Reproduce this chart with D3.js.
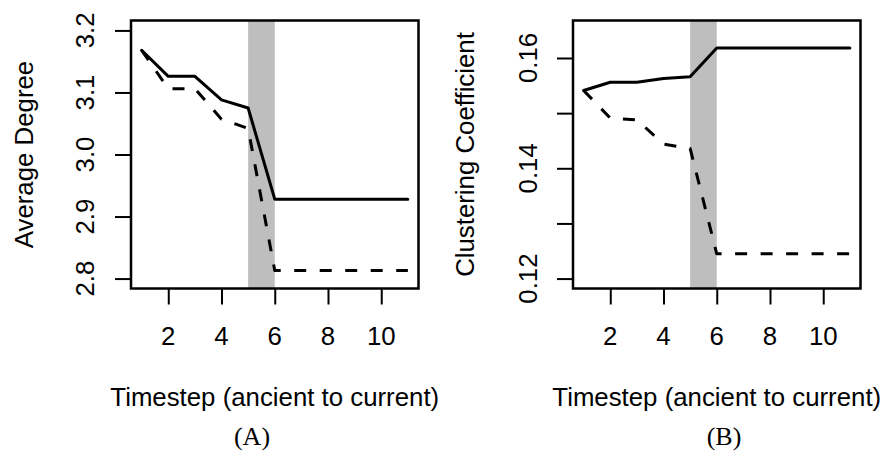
<!DOCTYPE html>
<html><head><meta charset="utf-8">
<script src="https://cdn.jsdelivr.net/npm/d3@7"></script>
<style>body{margin:0;background:#fff}svg{display:block}</style>
</head><body>
<svg id="c" width="880" height="453"></svg>
<script>
const timesteps = [1,2,3,4,5,6,7,8,9,10,11];
const degreeSolid  = [3.168,3.126,3.126,3.088,3.075,2.928,2.928,2.928,2.928,2.928,2.928];
const degreeDashed = [3.168,3.106,3.106,3.057,3.042,2.813,2.813,2.813,2.813,2.813,2.813];
const clusterSolid  = [0.1541,0.1556,0.1556,0.1563,0.1566,0.1618,0.1618,0.1618,0.1618,0.1618,0.1618];
const clusterDashed = [0.1541,0.1491,0.1488,0.1444,0.1436,0.1245,0.1245,0.1245,0.1245,0.1245,0.1245];
const xTicks = [2,4,6,8,10];
const degreeTicks = [2.8,2.9,3.0,3.1,3.2];
const degreeLabels = ["2.8","2.9","3.0","3.1","3.2"];
const clusterTicks = [0.12,0.13,0.14,0.15,0.16];
const clusterLabels = ["0.12","","0.14","","0.16"];
const band = [5,6];
const xTitle = "Timestep (ancient to current)";

const svg = d3.select("#c");
const sans = "'Liberation Sans', Arial, Helvetica, sans-serif";
const fs = 25.8;

function ext(lo, hi){ const r = hi-lo; return [lo-0.04*r, hi+0.04*r]; }

function panel(opt){
  const g = svg.append("g");
  const x = d3.scaleLinear().domain(ext(1,11)).range([opt.left, opt.right]);
  const y = d3.scaleLinear().domain(ext(opt.ylim[0], opt.ylim[1])).range([opt.bottom, opt.top]);
  g.append("rect").attr("x", x(band[0])).attr("width", x(band[1])-x(band[0]))
    .attr("y", opt.top).attr("height", opt.bottom-opt.top).attr("fill", "#bebebe");
  const line = d3.line().x((d,i)=>x(timesteps[i])).y(d=>y(d));
  g.append("path").attr("d", line(opt.solid)).attr("fill","none").attr("stroke","#000")
    .attr("stroke-width",3).attr("stroke-linejoin","round").attr("stroke-linecap","round");
  g.append("path").attr("d", line(opt.dashed)).attr("fill","none").attr("stroke","#000")
    .attr("stroke-width",3).attr("stroke-linejoin","round").attr("stroke-dasharray","12,13.5");
  g.append("rect").attr("x",opt.left).attr("y",opt.top).attr("width",opt.right-opt.left)
    .attr("height",opt.bottom-opt.top).attr("fill","none").attr("stroke","#000").attr("stroke-width",2.5);
  const xa = g.append("g").attr("transform",`translate(0,${opt.bottom})`)
    .call(d3.axisBottom(x).tickValues(xTicks).tickSize(16).tickPadding(0).tickFormat(()=>""));
  xa.select(".domain").remove();
  xa.selectAll("line").attr("stroke-width",2);
  g.selectAll(".xl").data(xTicks).join("text").attr("x",d=>x(d)).attr("y",345)
    .attr("text-anchor","middle").attr("font-family",sans).attr("font-size",fs).text(d=>d);
  const ya = g.append("g").attr("transform",`translate(${opt.left},0)`)
    .call(d3.axisLeft(y).tickValues(opt.yticks).tickSize(16).tickFormat(()=>""));
  ya.select(".domain").remove();
  ya.selectAll("line").attr("stroke-width",2);
  g.selectAll(".yl").data(opt.yticks).join("text")
    .attr("transform",d=>`translate(${opt.ytickBase},${y(d)}) rotate(-90)`)
    .attr("text-anchor","middle").attr("font-family",sans).attr("font-size",fs)
    .text((d,i)=>opt.ylabels[i]);
  g.append("text").attr("x",(opt.left+opt.right)/2).attr("y",406).attr("text-anchor","middle")
    .attr("font-family",sans).attr("font-size",fs).text(xTitle);
  g.append("text").attr("transform",`translate(${opt.ytitleBase},${(opt.top+opt.bottom)/2}) rotate(-90)`)
    .attr("text-anchor","middle").attr("font-family",sans).attr("font-size",fs).text(opt.ytitle);
  g.append("text").attr("x",opt.capX).attr("y",445).attr("text-anchor","middle")
    .attr("font-family","'Liberation Serif','Times New Roman',serif").attr("font-size",26).text(opt.cap);
}

panel({left:131,right:418.5,top:20.5,bottom:288.5,ylim:[2.8,3.2],solid:degreeSolid,dashed:degreeDashed,
  yticks:degreeTicks,ylabels:degreeLabels,ytickBase:93.5,ytitleBase:33,ytitle:"Average Degree",cap:"(A)",capX:252});
panel({left:573,right:860.5,top:20.5,bottom:288.5,ylim:[0.12,0.165],solid:clusterSolid,dashed:clusterDashed,
  yticks:clusterTicks,ylabels:clusterLabels,ytickBase:537,ytitleBase:473.5,ytitle:"Clustering Coefficient",cap:"(B)",capX:724});
</script>
</body></html>
